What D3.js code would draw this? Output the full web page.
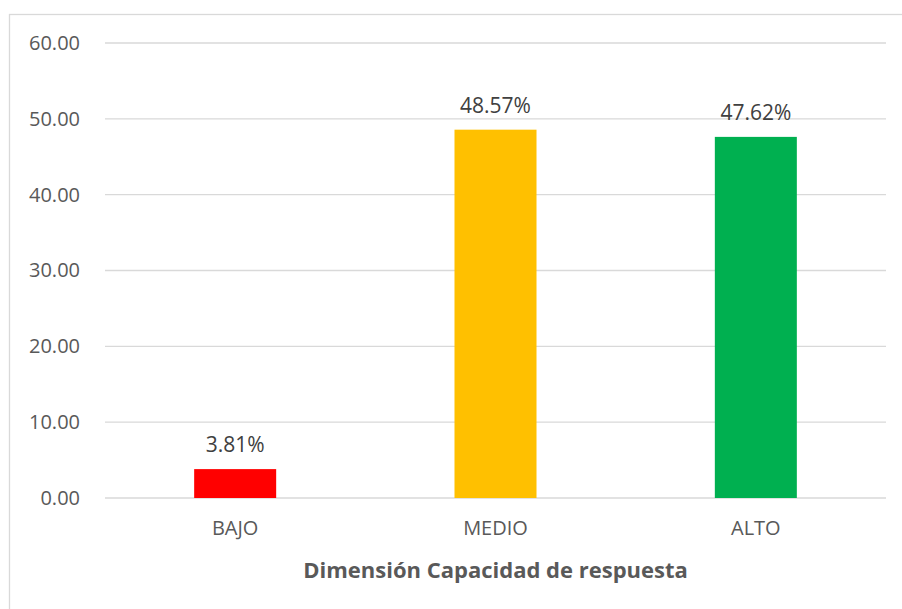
<!DOCTYPE html>
<html>
<head>
<meta charset="utf-8">
<script src="https://cdn.jsdelivr.net/npm/d3@7"></script>
<style>
  body { margin: 0; background: #fff; }
  svg { display: block; }
</style>
</head>
<body>
<div id="chart"></div>
<script>
// data
var categories = ['BAJO', 'MEDIO', 'ALTO'];
var values = [3.81, 48.57, 47.62];
var barColors = ['#FF0000', '#FFC000', '#00B050'];
var yTicks = [0, 10, 20, 30, 40, 50, 60];
var xTitle = 'Dimensión Capacidad de respuesta';

var width = 902, height = 609;
var margin = { left: 105, right: 16, top: 43, bottom: 111 };
var font = 'Open Sans, sans-serif';

var svg = d3
	.select('#chart')
	.append('svg')
	.attr('width', width)
	.attr('height', height);

// chart frame
svg.append('rect')
	.attr('x', 9.5)
	.attr('y', 14.5)
	.attr('width', width)
	.attr('height', height)
	.attr('fill', 'none')
	.attr('stroke', '#d9d9d9')
	.attr('stroke-width', 1.3);

var x = d3
	.scaleBand()
	.domain(categories)
	.range([margin.left, width - margin.right])
	.padding(0);

var y = d3
	.scaleLinear()
	.domain([0, 60])
	.range([height - margin.bottom, margin.top]);

// gridlines
svg.append('g')
	.selectAll('line')
	.data(yTicks)
	.enter()
	.append('line')
	.attr('x1', margin.left)
	.attr('x2', width - margin.right)
	.attr('y1', function(d) { return y(d); })
	.attr('y2', function(d) { return y(d); })
	.attr('stroke', '#d9d9d9')
	.attr('stroke-width', 1.3);

// y axis labels
var yAxis = d3
	.axisLeft(y)
	.tickValues(yTicks)
	.tickSize(0)
	.tickPadding(25)
	.tickFormat(d3.format('.2f'));

var gy = svg.append('g')
	.attr('transform', 'translate(' + margin.left + ',0)')
	.call(yAxis);
gy.select('.domain').remove();
gy.selectAll('text')
	.attr('font-family', font)
	.attr('font-size', 20)
	.attr('fill', '#595959');

// x axis labels
var xAxis = d3.axisBottom(x).tickSize(0).tickPadding(23);
var gx = svg.append('g')
	.attr('transform', 'translate(0,' + (height - margin.bottom) + ')')
	.call(xAxis);
gx.select('.domain').remove();
gx.selectAll('text')
	.attr('font-family', font)
	.attr('font-size', 20)
	.attr('fill', '#595959');

// bars
var barW = x.bandwidth() * 0.315;
svg.append('g')
	.selectAll('rect')
	.data(values)
	.enter()
	.append('rect')
	.attr('x', function(d, i) { return x(categories[i]) + (x.bandwidth() - barW) / 2; })
	.attr('y', function(d) { return y(d); })
	.attr('width', barW)
	.attr('height', function(d) { return y(0) - y(d); })
	.attr('fill', function(d, i) { return barColors[i]; });

// value labels
svg.append('g')
	.selectAll('text')
	.data(values)
	.enter()
	.append('text')
	.attr('x', function(d, i) { return x(categories[i]) + x.bandwidth() / 2; })
	.attr('y', function(d) { return y(d) - 17; })
	.attr('text-anchor', 'middle')
	.attr('font-family', font)
	.attr('font-size', 21)
	.attr('fill', '#404040')
	.text(function(d) { return d.toFixed(2) + '%'; });

// x title
svg.append('text')
	.attr('x', (margin.left + width - margin.right) / 2)
	.attr('y', 578)
	.attr('text-anchor', 'middle')
	.attr('font-family', font)
	.attr('font-size', 22)
	.attr('font-weight', 'bold')
	.attr('fill', '#595959')
	.text(xTitle);
</script>
</body>
</html>
